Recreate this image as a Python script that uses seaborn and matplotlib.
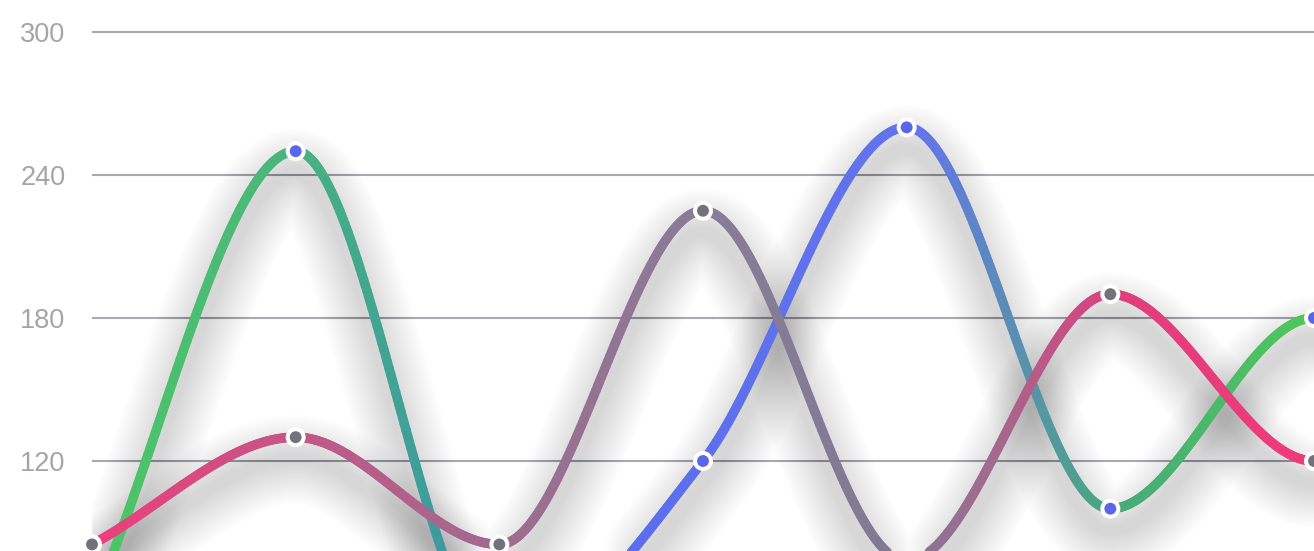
import numpy as np
import pandas as pd
import matplotlib
matplotlib.use("Agg")
import matplotlib.pyplot as plt
import matplotlib.transforms as mtransforms
from matplotlib.collections import LineCollection
from matplotlib.colors import LinearSegmentedColormap
import seaborn as sns

# data (chart is cropped, a few points sit below the edge)
positions = [0, 1, 2, 3, 4, 5, 6]
series_a = [60, 250, 42, 120, 260, 100, 180]
series_b = [85, 130, 85, 225, 78, 190, 120]
y_ticks = [120, 180, 240, 300]

# horizontal gradient stops for each stroke
grad_a = [(0.0, "#4cc764"), (0.15, "#4bb67c"), (0.28, "#3d9c9c"), (0.42, "#5b6df0"),
          (0.68, "#6474ea"), (0.76, "#5a90b0"), (0.84, "#47aa7a"), (1.0, "#50c85c")]
grad_b = [(0.0, "#ee3d7a"), (0.15, "#c85486"), (0.33, "#a06a8e"), (0.5, "#877d97"),
          (0.66, "#817a93"), (0.74, "#a26a8e"), (0.84, "#e03f7c"), (1.0, "#ef3b78")]


def monotone_curve(xs, ys, n=120):
    """Fritsch-Carlson monotone cubic, like chart.js 'monotone' mode"""
    xs = np.asarray(xs, float)
    ys = np.asarray(ys, float)
    d = np.diff(ys) / np.diff(xs)
    m = np.zeros(len(ys))
    m[0] = d[0]
    for i in range(1, len(ys) - 1):
        if d[i - 1] * d[i] > 0:
            m[i] = (d[i - 1] + d[i]) / 2
    for k in range(len(d)):
        if d[k] == 0:
            m[k] = m[k + 1] = 0
            continue
        a, b = m[k] / d[k], m[k + 1] / d[k]
        sq = a * a + b * b
        if sq > 9:
            tau = 3 / np.sqrt(sq)
            m[k], m[k + 1] = a * tau * d[k], b * tau * d[k]
    # the chart keeps going past the right edge, so the last point is a turn
    m[-1] = 0
    out_x, out_y = [], []
    for k in range(len(d)):
        h = xs[k + 1] - xs[k]
        t = np.linspace(0, 1, n, endpoint=(k == len(d) - 1))
        h00 = 2 * t**3 - 3 * t**2 + 1
        h10 = t**3 - 2 * t**2 + t
        h01 = -2 * t**3 + 3 * t**2
        h11 = t**3 - t**2
        out_x.append(xs[k] + t * h)
        out_y.append(h00 * ys[k] + h10 * h * m[k] + h01 * ys[k + 1] + h11 * h * m[k + 1])
    return np.concatenate(out_x), np.concatenate(out_y)


sns.set_theme(style="white")
plt.rcParams["font.family"] = ["Liberation Sans", "DejaVu Sans"]

fig = plt.figure(figsize=(13.14, 5.51), dpi=100)
ax = fig.add_axes([92 / 1314, 0, 1 - 92 / 1314, 1])
ax.set_xlim(0, 6)
ax.set_ylim(82.24, 313.43)

curves = [(series_a, grad_a), (series_b, grad_b)]

# soft, wide drop shadows under the strokes (stacked faint lines = fake blur)
shadow = mtransforms.offset_copy(ax.transData, fig=fig, x=0, y=-22, units="dots")
for vals, _ in curves:
    cx, cy = monotone_curve(positions, vals)
    for lw in np.linspace(64, 8, 20):
        ax.plot(cx, cy, color="black", alpha=0.0075, lw=lw, transform=shadow,
                solid_capstyle="round", zorder=1)

# gradient strokes
for vals, stops in curves:
    cx, cy = monotone_curve(positions, vals)
    pts = np.column_stack([cx, cy]).reshape(-1, 1, 2)
    segs = np.concatenate([pts[:-1], pts[1:]], axis=1)
    cmap = LinearSegmentedColormap.from_list("g", stops)
    lc = LineCollection(segs, colors=cmap((cx[:-1] + cx[1:]) / 2 / 6), linewidths=6.8,
                        capstyle="round", joinstyle="round", zorder=3)
    ax.add_collection(lc)

# point markers with a white ring
df = pd.DataFrame({
    "x": positions * 2,
    "value": series_a + series_b,
    "series": ["A"] * len(positions) + ["B"] * len(positions),
})
sns.scatterplot(data=df, x="x", y="value", hue="series",
                palette={"A": "#5a66ea", "B": "#72727c"}, s=132,
                edgecolor="white", linewidth=2.9, legend=False, zorder=4,
                clip_on=False, ax=ax)

ax.set_yticks(y_ticks)
ax.set_xticks([])
ax.set_xlabel("")
ax.set_ylabel("")
ax.grid(axis="y", color="#a9a9b4", lw=1.5, zorder=0)
ax.set_axisbelow(True)
ax.tick_params(axis="y", length=0, pad=19, labelsize=19.5, labelcolor="#a4a4ac")
for sp in ax.spines.values():
    sp.set_visible(False)

fig.savefig("out.png", dpi=100)
